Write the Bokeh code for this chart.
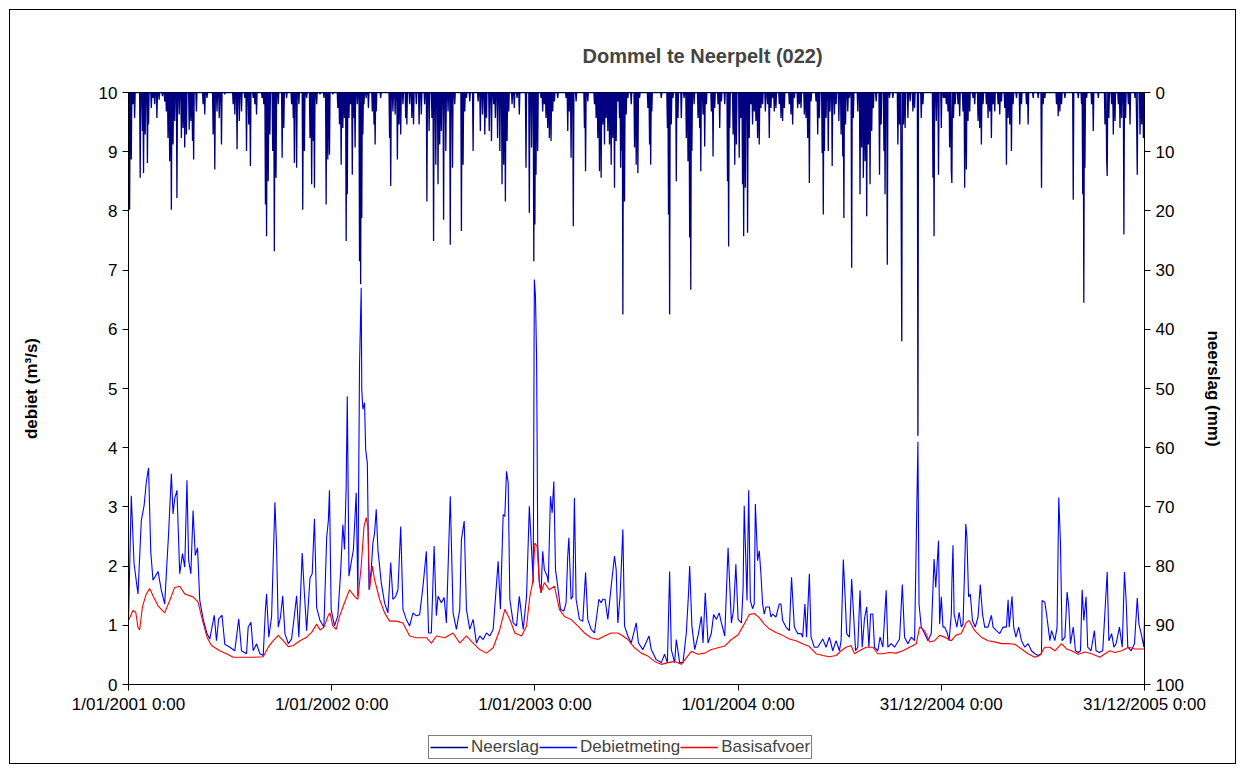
from bokeh.plotting import figure
from bokeh.layouts import column
from bokeh.models import Range1d, LinearAxis, FixedTicker, Legend, LegendItem
from bokeh.embed import file_html
from bokeh.resources import INLINE
import numpy as np

FONT = "Liberation Sans"

# ---- data (day index since 1/01/2001, value) ----
tick_days = [0, 365, 730, 1095, 1460, 1825]
tick_labels = ["1/01/2001 0:00", "1/01/2002 0:00", "1/01/2003 0:00",
               "1/01/2004 0:00", "31/12/2004 0:00", "31/12/2005 0:00"]

# Neerslag (mm) per rainy day
neerslag = [(2,19.8),(5,11.3),(8,2.0),(11,4.3),(21,14.4),(25,6.5),(27,13.6),(30,7.1),(34,11.9),(36,5.4),(41,2.6),(44,0.9),(47,2.0),(51,4.3),(55,1.2),(61,0.6),(65,1.5),(68,3.2),(71,7.7),(74,11.6),(77,19.8),(80,8.8),(83,4.8),(87,17.8),(91,3.7),(95,7.7),(98,6.0),(101,9.3),(104,7.1),(109,6.3),(112,4.8),(115,8.2),(117,11.3),(122,3.2),(134,2.0),(137,3.7),(141,0.9),(152,7.1),(155,13.0),(159,3.2),(163,4.3),(167,8.8),(173,0.3),(188,2.0),(191,3.7),(195,9.6),(199,4.8),(203,3.2),(209,0.9),(212,9.9),(216,5.4),(219,12.4),(224,0.9),(227,2.0),(230,3.7),(240,0.9),(243,2.0),(246,18.9),(248,24.3),(251,15.0),(254,7.1),(259,9.9),(262,26.8),(265,14.4),(269,2.0),(276,11.0),(279,6.0),(284,0.9),(293,2.0),(296,4.3),(298,11.9),(302,12.7),(306,2.0),(313,19.8),(316,9.9),(320,0.9),(326,7.7),(329,15.5),(332,8.2),(334,16.1),(338,2.0),(344,0.3),(351,0.9),(355,18.9),(358,11.3),(361,10.5),
            (367,0.3),(376,2.6),(379,5.4),(382,12.2),(385,6.0),(388,4.3),(391,25.1),(393,17.2),(396,4.3),(399,2.0),(402,13.9),(404,4.3),(407,9.3),(411,2.0),(415,28.5),(417,32.4),(419,21.2),(421,7.1),(423,2.0),(427,0.9),(431,2.6),(438,3.2),(441,5.4),(443,8.8),(445,3.2),(453,0.9),(469,7.7),(471,15.8),(475,3.2),(479,3.7),(483,11.3),(486,5.4),(489,7.1),(493,2.0),(498,4.3),(500,5.4),(505,2.0),(509,4.3),(512,5.4),(517,2.0),(522,5.4),(526,3.7),(532,2.0),(536,18.4),(540,6.5),(545,4.3),(548,25.1),(552,12.2),(556,15.5),(559,8.8),(562,6.5),(566,21.5),(570,9.9),(574,3.2),(578,25.7),(582,12.7),(586,2.0),(598,23.4),(601,12.2),(604,3.2),(607,0.9),(613,1.5),(619,9.9),(628,1.5),(632,6.5),(636,3.7),(640,7.1),(643,4.3),(648,6.5),(652,8.2),(656,2.0),(659,4.3),(663,7.7),(667,9.9),(671,15.5),(674,12.2),(677,18.4),(680,8.2),(683,3.2),(689,2.0),(693,2.6),(698,0.9),(702,3.7),(714,12.7),(720,20.3),(724,9.3),(728,28.5),(730,22.3),(732,13.9),(735,9.9),
            (741,0.9),(744,3.2),(747,2.0),(750,4.3),(753,6.0),(756,7.7),(759,8.2),(762,3.2),(765,1.5),(771,0.9),(786,0.9),(789,6.5),(792,3.2),(795,11.0),(799,22.6),(804,1.5),(819,6.0),(821,13.3),(825,1.5),(837,2.0),(840,4.3),(843,7.7),(846,13.3),(849,14.4),(852,5.4),(855,8.8),(858,4.3),(861,6.5),(864,8.8),(867,12.2),(870,7.7),(873,16.1),(876,8.2),(879,1.5),(882,4.3),(884,12.7),(886,9.9),(888,37.5),(891,18.4),(894,3.7),(897,0.9),(903,2.0),(909,9.3),(912,12.2),(915,13.6),(918,0.9),(933,2.6),(936,8.8),(938,12.2),(940,3.2),(957,0.9),(968,6.0),(970,20.6),(972,37.5),(975,5.4),(978,0.9),(984,15.0),(987,4.3),(993,4.3),(998,0.9),(1002,7.7),(1005,11.6),(1008,24.5),(1010,33.3),(1012,9.9),(1016,2.0),(1023,4.3),(1026,6.0),(1028,13.3),(1032,3.7),(1035,9.1),(1038,2.0),(1047,3.2),(1050,10.8),(1053,2.6),(1059,2.0),(1062,6.0),(1065,1.5),(1071,2.0),(1076,15.0),(1078,26.0),(1080,6.0),(1086,7.1),(1089,12.2),(1092,8.8),
            (1097,11.0),(1100,4.3),(1103,15.5),(1105,24.3),(1108,16.1),(1112,23.7),(1115,7.7),(1118,2.0),(1121,5.4),(1124,3.2),(1127,4.8),(1130,7.7),(1133,8.8),(1136,2.6),(1139,2.0),(1144,3.2),(1148,2.0),(1151,7.7),(1154,2.6),(1157,0.9),(1160,3.2),(1163,2.6),(1169,2.0),(1172,4.3),(1175,4.8),(1178,2.6),(1187,2.0),(1190,3.7),(1193,5.4),(1196,0.9),(1202,2.6),(1205,2.0),(1208,2.6),(1214,3.7),(1217,4.3),(1220,7.7),(1223,15.3),(1226,1.5),(1235,1.5),(1238,7.1),(1241,4.3),(1246,10.2),(1248,20.6),(1250,9.9),(1253,4.3),(1257,9.9),(1260,3.2),(1264,12.4),(1268,3.7),(1271,2.0),(1276,4.8),(1280,7.1),(1283,10.8),(1285,21.2),(1288,5.4),(1292,3.2),(1295,0.9),(1299,29.6),(1302,4.3),(1310,3.2),(1314,17.2),(1317,9.3),(1320,14.4),(1323,11.6),(1326,20.9),(1329,8.8),(1332,15.5),(1335,6.5),(1338,2.6),(1343,1.5),(1349,13.9),(1352,5.4),(1357,9.9),(1359,17.2),(1363,29.1),(1367,0.9),(1373,0.9),(1382,8.8),(1385,5.4),(1388,21.7),(1389,42.0),(1392,5.4),(1395,6.0),(1400,4.3),(1404,1.5),(1409,3.2),(1412,2.6),(1418,58.0),(1424,4.3),(1427,2.0),(1445,14.4),(1447,24.3),(1451,4.8),(1455,13.9),(1460,6.0),(1464,0.9),
            (1466,0.9),(1469,2.0),(1472,3.2),(1475,9.3),(1478,13.3),(1479,15.3),(1482,4.3),(1485,2.0),(1490,2.0),(1493,4.0),(1499,3.2),(1502,16.1),(1505,13.0),(1508,4.8),(1511,3.2),(1517,0.9),(1520,2.0),(1526,4.8),(1529,6.0),(1532,8.8),(1535,2.0),(1541,2.0),(1544,4.3),(1547,3.2),(1550,7.7),(1553,2.0),(1556,3.2),(1562,2.0),(1565,3.7),(1568,1.5),(1574,2.6),(1577,12.2),(1580,4.3),(1583,5.4),(1586,9.9),(1589,2.0),(1595,0.9),(1601,5.4),(1604,2.0),(1613,2.0),(1616,5.4),(1625,0.9),(1634,0.9),(1640,16.1),(1643,2.0),(1646,0.9),(1667,2.0),(1670,4.0),(1673,3.2),(1676,2.0),(1682,0.9),(1697,18.1),(1706,0.9),(1712,2.0),(1714,17.2),(1716,35.5),(1718,12.7),(1721,0.9),(1730,2.0),(1733,6.5),(1742,0.9),(1754,5.4),(1757,11.3),(1758,14.1),(1761,4.3),(1766,2.0),(1769,7.1),(1772,4.8),(1778,2.0),(1781,6.0),(1784,4.3),(1788,24.0),(1791,4.3),(1796,2.0),(1799,5.4),(1808,0.9),(1811,6.0),(1812,13.9),(1817,7.1),(1820,5.4),(1823,7.7),(1825,7.9)]

# Debietmeting (m3/s)
debietmeting = [(0,1.08),(5,3.19),(10,2.04),(17,1.53),(23,2.77),(28,3.02),(32,3.42),(36,3.66),(40,2.24),(44,1.76),(53,1.91),(59,1.59),(65,1.36),(72,2.55),(77,3.56),(80,2.88),(83,3.14),(87,3.28),(92,1.87),(97,2.21),(101,1.98),(105,3.45),(108,2.10),(112,1.87),(116,2.94),(120,2.18),(124,2.31),(128,1.42),(134,1.11),(141,0.86),(146,0.77),(154,1.17),(158,0.74),(162,1.11),(168,1.17),(173,0.68),(182,0.63),(191,0.57),(198,1.11),(203,0.57),(212,0.52),(215,0.97),(220,1.05),(224,0.57),(230,0.69),(236,0.52),(242,0.49),(246,1.28),(248,1.53),(252,0.80),(257,1.14),(263,3.08),(266,2.32),(269,0.97),(273,1.14),(277,1.50),(281,0.86),(287,0.69),(293,0.77),(298,1.17),(302,1.50),(306,0.80),(312,2.22),(316,1.53),(320,0.91),(326,1.80),(330,1.87),(334,2.80),(338,1.30),(344,1.08),(351,0.97),(356,2.49),(359,2.77),(361,3.28),(364,1.27),(370,0.99),(376,1.16),(381,1.89),(385,2.70),(388,2.28),(391,3.35),(393,4.87),(396,1.83),(400,2.06),(404,2.28),(409,3.24),(412,1.49),(415,5.41),(418,6.70),(419,4.98),(421,4.65),(424,4.76),(426,3.97),(429,3.74),(432,1.60),(436,1.94),(439,2.39),(442,2.56),(445,2.96),(448,2.28),(454,1.72),(460,1.38),(466,1.21),(471,2.06),(475,1.44),(480,1.49),(484,1.60),(489,2.67),(493,1.27),(499,1.10),(505,0.99),(511,1.21),(517,1.16),(523,1.18),(529,1.66),(535,2.25),(539,0.87),(544,0.87),(549,2.34),(553,1.16),(556,1.49),(562,1.38),(567,1.47),(571,1.04),(578,3.18),(583,1.21),(589,0.93),(595,1.27),(598,2.45),(603,2.76),(607,1.27),(613,0.93),(619,1.10),(625,0.70),(631,0.82),(637,0.76),(643,0.87),(649,0.82),(655,0.93),(664,2.08),(668,1.27),(673,2.87),(676,2.84),(679,3.60),(682,3.41),(685,1.44),(691,1.04),(697,0.99),(702,1.49),(709,0.93),(715,1.49),(720,3.01),(724,2.28),(727,1.72),(729,6.84),(731,6.56),(733,5.55),(734,4.14),(735,2.39),(738,1.72),(741,1.55),(744,2.25),(747,1.94),(752,1.83),(754,1.72),(758,3.18),(761,2.90),(764,3.43),(767,1.94),(771,1.66),(776,1.27),(782,1.24),(786,1.38),(789,2.17),(791,2.48),(795,1.44),(798,1.49),(801,3.15),(804,1.44),(810,1.10),(816,1.07),(821,1.89),(825,1.10),(831,0.93),(837,0.87),(845,1.44),(849,1.38),(852,1.44),(856,1.44),(861,1.10),(867,1.66),(873,2.17),(876,1.94),(879,1.04),(883,1.49),(888,2.62),(891,0.99),(897,0.82),(903,0.70),(912,1.04),(916,0.70),(924,0.59),(935,0.82),(939,0.59),(948,0.42),(957,0.37),(963,0.51),(968,0.37),(972,1.91),(975,0.59),(981,0.37),(984,0.76),(990,0.37),(996,0.37),(1002,0.87),(1006,1.55),(1008,2.00),(1012,0.99),(1017,0.59),(1023,0.82),(1029,1.15),(1032,0.70),(1036,1.55),(1041,0.70),(1047,0.87),(1051,1.18),(1056,1.10),(1061,1.21),(1065,1.04),(1071,0.82),(1077,2.31),(1083,1.04),(1087,1.27),(1091,2.03),(1095,1.10),(1101,1.04),(1104,1.64),(1106,3.02),(1108,2.38),(1111,1.42),(1114,3.28),(1117,1.42),(1121,1.28),(1124,1.36),(1126,3.05),(1130,2.09),(1133,2.26),(1136,1.87),(1139,1.36),(1142,1.19),(1145,1.31),(1151,1.31),(1154,1.14),(1157,1.19),(1163,1.14),(1169,1.36),(1172,1.36),(1175,1.08),(1181,0.97),(1187,0.91),(1191,1.81),(1193,1.47),(1196,0.97),(1202,0.86),(1208,0.86),(1211,0.80),(1215,1.36),(1218,0.80),(1223,1.87),(1226,0.80),(1232,0.63),(1238,0.63),(1247,0.77),(1253,0.63),(1259,0.80),(1265,0.57),(1271,0.74),(1277,0.57),(1280,0.74),(1284,2.11),(1287,1.53),(1290,0.86),(1295,0.80),(1299,1.78),(1302,1.25),(1306,0.57),(1310,0.63),(1314,1.59),(1318,0.63),(1322,1.11),(1326,1.31),(1330,0.63),(1333,1.19),(1337,1.19),(1340,0.63),(1346,0.57),(1350,0.80),(1355,0.63),(1361,1.59),(1364,0.63),(1370,0.69),(1376,0.63),(1385,0.77),(1390,1.69),(1394,0.80),(1400,0.69),(1406,0.80),(1412,0.74),(1418,4.10),(1420,1.36),(1424,0.97),(1430,0.86),(1436,0.74),(1442,0.86),(1447,2.12),(1450,1.64),(1455,2.43),(1457,1.02),(1460,1.48),(1463,0.97),(1466,0.97),(1471,0.86),(1474,0.74),(1478,1.19),(1479,1.70),(1481,2.35),(1483,1.19),(1488,0.97),(1492,1.22),(1496,0.97),(1499,1.02),(1502,1.98),(1504,2.71),(1506,2.49),(1509,1.48),(1512,1.53),(1516,1.08),(1521,0.97),(1526,1.14),(1530,1.69),(1534,1.19),(1538,0.97),(1544,0.97),(1550,1.17),(1553,0.97),(1559,0.91),(1565,0.86),(1571,0.97),(1577,0.97),(1580,1.43),(1582,0.97),(1587,1.49),(1590,0.97),(1594,0.80),(1599,0.97),(1604,0.74),(1610,0.63),(1616,0.69),(1622,0.57),(1628,0.52),(1634,0.49),(1640,0.52),(1641,1.42),(1646,1.39),(1649,1.19),(1652,0.97),(1655,0.74),(1658,0.91),(1664,0.74),(1668,0.97),(1671,3.16),(1674,2.40),(1677,0.74),(1682,0.80),(1686,1.56),(1689,1.31),(1692,0.69),(1697,0.97),(1701,0.57),(1706,0.54),(1710,0.57),(1713,1.60),(1716,1.08),(1720,1.48),(1723,0.63),(1729,0.57),(1735,0.91),(1738,0.57),(1744,0.54),(1750,0.57),(1758,1.90),(1761,0.74),(1766,0.86),(1770,0.63),(1774,0.69),(1780,0.97),(1785,0.63),(1789,1.90),(1792,1.42),(1795,0.63),(1801,0.57),(1807,0.69),(1812,1.46),(1815,1.02),(1819,0.86),(1824,0.63),(1825,1.14)]

# Basisafvoer (m3/s)
basisafvoer = [(0,1.08),(8,1.25),(13,1.22),(17,0.97),(20,0.92),(25,1.31),(32,1.53),(38,1.62),(44,1.50),(53,1.33),(65,1.21),(74,1.42),(83,1.64),(92,1.66),(101,1.53),(116,1.48),(125,1.39),(133,1.08),(141,0.80),(149,0.66),(164,0.57),(176,0.52),(188,0.46),(206,0.46),(224,0.46),(242,0.47),(251,0.63),(260,0.74),(269,0.83),(278,0.74),(287,0.64),(296,0.66),(308,0.74),(320,0.80),(329,0.88),(338,1.02),(344,0.92),(351,0.97),(359,1.17),(362,1.21),(367,0.99),(373,0.93),(379,1.15),(388,1.38),(397,1.60),(406,1.49),(412,1.44),(418,2.00),(423,2.67),(427,2.82),(430,2.67),(433,1.60),(438,2.00),(442,1.77),(451,1.44),(460,1.21),(469,1.07),(481,1.07),(493,1.04),(505,0.82),(517,0.79),(535,0.79),(544,0.70),(553,0.82),(568,0.79),(583,0.87),(595,0.70),(607,0.82),(619,0.70),(631,0.59),(643,0.53),(655,0.62),(667,0.93),(676,1.27),(685,1.10),(694,0.87),(706,0.82),(715,0.99),(721,1.49),(726,1.72),(730,2.39),(734,2.33),(738,1.72),(741,1.55),(747,1.72),(756,1.60),(765,1.66),(774,1.27),(783,1.15),(795,1.10),(807,0.99),(819,0.87),(831,0.79),(843,0.76),(855,0.82),(867,0.87),(879,0.87),(888,0.82),(897,0.76),(909,0.62),(921,0.53),(933,0.48),(945,0.39),(957,0.34),(969,0.37),(981,0.39),(993,0.34),(1002,0.45),(1011,0.56),(1023,0.51),(1035,0.53),(1047,0.59),(1059,0.62),(1071,0.65),(1083,0.76),(1095,0.84),(1106,1.02),(1115,1.18),(1124,1.20),(1133,1.13),(1142,1.02),(1151,0.94),(1163,0.88),(1175,0.83),(1187,0.77),(1199,0.74),(1211,0.69),(1223,0.64),(1235,0.52),(1247,0.49),(1259,0.47),(1271,0.49),(1280,0.57),(1289,0.63),(1298,0.66),(1304,0.52),(1313,0.57),(1325,0.63),(1337,0.63),(1346,0.52),(1355,0.52),(1367,0.54),(1379,0.53),(1391,0.57),(1403,0.63),(1415,0.69),(1421,0.97),(1430,0.91),(1439,0.72),(1448,0.74),(1457,0.83),(1466,0.80),(1478,0.74),(1486,0.83),(1496,0.86),(1505,1.05),(1510,1.08),(1520,0.91),(1532,0.80),(1544,0.74),(1556,0.72),(1568,0.69),(1580,0.69),(1592,0.68),(1604,0.60),(1616,0.52),(1628,0.46),(1637,0.49),(1646,0.63),(1655,0.63),(1664,0.57),(1676,0.69),(1685,0.60),(1694,0.57),(1706,0.51),(1718,0.55),(1730,0.52),(1745,0.46),(1754,0.52),(1763,0.57),(1772,0.54),(1784,0.57),(1796,0.63),(1808,0.60),(1817,0.60),(1825,0.60)]

series_names = ["Neerslag", "Debietmeting", "Basisafvoer"]
series_colors = ["#000080", "#0000FF", "#FF0000"]

# ---- build series ----
n_days = 1826
rain_daily = np.zeros(n_days)
for d, v in neerslag:
    rain_daily[d] = v
all_days = np.arange(n_days)
deb_x = [d for d, _ in debietmeting]
deb_y = [v for _, v in debietmeting]
bas_x = [d for d, _ in basisafvoer]
bas_y = [v for _, v in basisafvoer]

W = 1225
H_MAIN = 718
H_LEG = 35

p = figure(width=W, height=H_MAIN, x_range=Range1d(0, 1825), y_range=Range1d(0, 10),
           output_backend="svg", toolbar_location=None,
           min_border_left=118, min_border_right=91, min_border_top=82, min_border_bottom=44,
           background_fill_color="white", border_fill_color="white")
p.outline_line_color = "black"
p.outline_line_width = 1
p.xgrid.visible = False
p.ygrid.visible = False

p.extra_y_ranges = {"rain": Range1d(start=100, end=0)}

p.line(all_days, rain_daily, y_range_name="rain", line_color=series_colors[0], line_width=1.3)
p.line(deb_x, deb_y, line_color=series_colors[1], line_width=1.1)
p.line(bas_x, bas_y, line_color=series_colors[2], line_width=1.1)

def style_axis(ax):
    ax.major_label_text_font = FONT
    ax.major_label_text_font_size = "17px"
    ax.major_label_text_color = "black"
    ax.axis_line_color = "black"
    ax.major_tick_line_color = "black"
    ax.major_tick_out = 6
    ax.major_tick_in = 0
    ax.minor_tick_line_color = None
    ax.axis_label_text_font = FONT
    ax.axis_label_text_font_size = "17px"
    ax.axis_label_text_font_style = "bold"
    ax.axis_label_text_color = "black"

xa = p.xaxis[0]
xa.ticker = FixedTicker(ticks=tick_days)
xa.major_label_overrides = {d: s for d, s in zip(tick_days, tick_labels)}
style_axis(xa)
xa.major_label_standoff = 4

ya = p.yaxis[0]
ya.ticker = FixedTicker(ticks=list(range(0, 11)))
ya.axis_label = "debiet (m³/s)"
style_axis(ya)
ya.axis_label_standoff = 55

ra = LinearAxis(y_range_name="rain", ticker=FixedTicker(ticks=list(range(0, 101, 10))),
                axis_label="neerslag (mm)")
style_axis(ra)
ra.axis_label_standoff = 17
p.add_layout(ra, "right")

p.title.text = "Dommel te Neerpelt (022)"
p.title.text_font = FONT
p.title.text_font_size = "20px"
p.title.text_font_style = "bold"
p.title.align = "left"
p.title.offset = 454
p.title.standoff = 51

# ---- legend strip below the chart (its frame is aligned with the chart frame) ----
lg = figure(width=W, height=H_LEG, x_range=Range1d(0, 1), y_range=Range1d(0, 1),
            output_backend="svg", toolbar_location=None,
            x_axis_type=None, y_axis_type=None,
            min_border_left=0, min_border_right=0, min_border_top=0, min_border_bottom=0,
            background_fill_color="white", border_fill_color="white")
lg.outline_line_color = None
lg.xgrid.visible = False
lg.ygrid.visible = False
items = []
for name, col in zip(series_names, series_colors):
    r = lg.line([-5, -4], [-5, -4], line_color=col, line_width=1.5)
    items.append(LegendItem(label=name, renderers=[r]))
legend = Legend(items=items, orientation="horizontal", location=(300, 4),
                border_line_color="black", border_line_width=1,
                background_fill_color="white", background_fill_alpha=1,
                label_text_font=FONT, label_text_font_size="17px",
                glyph_width=38, glyph_height=14, label_standoff=3, spacing=0,
                padding=1, margin=0, label_height=14)
lg.add_layout(legend, "center")

layout = column(p, lg, spacing=0)
layout.styles = {"border": "1px solid black", "margin-left": "9px", "margin-top": "9px"}

open("out.html", "w").write(file_html(layout, INLINE))
